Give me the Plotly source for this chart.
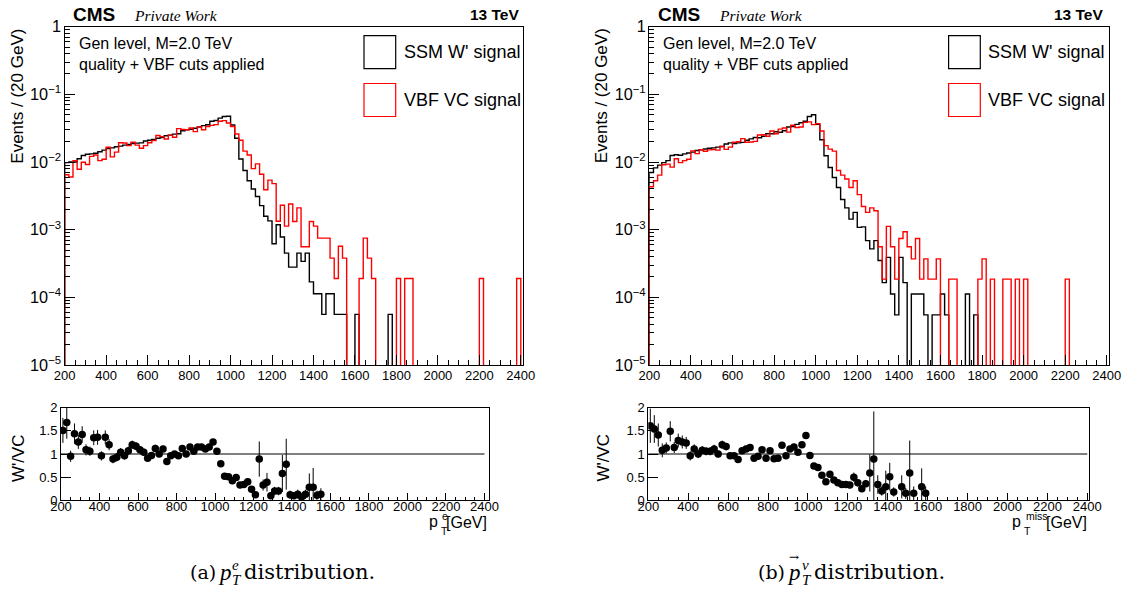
import numpy as np
import plotly.graph_objects as go

W, H = 1124, 593

# ---------------- data ----------------
bin_lo = 200
bin_w = 20
n_bins = 110

# p_T^e panel, 20 GeV bins 200-2400
pte_ssm = [0.0098, 0.0100, 0.0100, 0.0112, 0.0125, 0.0130, 0.0132, 0.0135, 0.0142, 0.0150,
           0.0158, 0.0162, 0.0168, 0.0172, 0.0178, 0.0182, 0.0188, 0.0190, 0.0192, 0.0205,
           0.0210, 0.0215, 0.0225, 0.0230, 0.0245, 0.0250, 0.0258, 0.0262, 0.0290, 0.0300,
           0.0305, 0.0315, 0.0330, 0.0345, 0.0355, 0.0400, 0.0410, 0.0445, 0.0470, 0.0475,
           0.0352, 0.0224, 0.0111, 0.0075, 0.0053, 0.0040, 0.0031, 0.00227, 0.00158, 0.00135,
           6.2e-4, 1.18e-3, 7.8e-4, 4.5e-4, 2.8e-4, 2.8e-4, 4.5e-4, 3.4e-4, 4.5e-4, 1.69e-4,
           1.13e-4, 1.13e-4, 5.6e-5, 1.13e-4, 1.13e-4, 5.6e-5, 5.6e-5, 5.6e-5, 0, 0,
           5.6e-5, 0, 0, 0, 0, 0, 0, 0, 5.6e-5, 0,
           0, 0, 0, 0, 0, 0, 0, 0, 0, 0,
           0, 0, 0, 0, 0, 0, 0, 0, 0, 0,
           0, 0, 0, 0, 0, 0, 0, 0, 0, 0]
pte_vbf = [0.0065, 0.0060, 0.0105, 0.0078, 0.0099, 0.0092, 0.0121, 0.0127, 0.0105, 0.0110,
           0.0165, 0.0119, 0.0140, 0.0193, 0.0191, 0.0175, 0.0196, 0.0178, 0.0160, 0.0175,
           0.0193, 0.0207, 0.0247, 0.0237, 0.0219, 0.0250, 0.0232, 0.0312, 0.0302, 0.0300,
           0.0318, 0.0281, 0.0330, 0.0300, 0.0335, 0.0348, 0.0357, 0.0401, 0.0409, 0.0377,
           0.0335, 0.0260, 0.0210, 0.0145, 0.0127, 0.0080, 0.0094, 0.0066, 0.0039, 0.0054,
           0.0048, 1.33e-3, 2.3e-3, 1.13e-3, 2.4e-3, 1.32e-3, 2.1e-3, 5.6e-4, 5.6e-4, 1.32e-3,
           1.13e-3, 7.5e-4, 7.5e-4, 7.5e-4, 3.8e-4, 1.9e-4, 5.7e-4, 3.8e-4, 0, 0,
           0, 1.9e-4, 7.5e-4, 3.8e-4, 1.9e-4, 0, 0, 0, 0, 0,
           1.9e-4, 0, 1.9e-4, 1.9e-4, 0, 0, 0, 0, 0, 0,
           0, 0, 0, 0, 0, 0, 0, 0, 0, 0,
           1.9e-4, 0, 0, 0, 0, 0, 0, 0, 0, 1.9e-4]

# p_T^miss panel
met_ssm = [0.0070, 0.0082, 0.0090, 0.0098, 0.0105, 0.0125, 0.0128, 0.0126, 0.0132, 0.0136,
           0.0140, 0.0148, 0.0152, 0.0156, 0.0160, 0.0162, 0.0166, 0.0170, 0.0185, 0.0192,
           0.0188, 0.0192, 0.0195, 0.0210, 0.0220, 0.0230, 0.0228, 0.0240, 0.0262, 0.0262,
           0.0280, 0.0275, 0.0290, 0.0330, 0.0335, 0.0360, 0.0380, 0.0400, 0.0470, 0.0500,
           0.0360, 0.0213, 0.0124, 0.0083, 0.0059, 0.0042, 0.0028, 0.0021, 0.00143, 0.0018,
           0.00108, 0.0011, 6.9e-4, 5.2e-4, 6.9e-4, 3.5e-4, 1.65e-4, 3.9e-4, 1.12e-4, 5.5e-5,
           3.9e-4, 1.65e-4, 0, 1.12e-4, 1.12e-4, 1.12e-4, 5.5e-5, 0, 5.5e-5, 5.5e-5,
           1.12e-4, 5.5e-5, 0, 0, 0, 0, 1.12e-4, 0, 5.5e-5, 0,
           0, 0, 0, 0, 0, 0, 0, 0, 0, 0,
           0, 0, 0, 0, 0, 0, 0, 0, 0, 0,
           0, 0, 0, 0, 0, 0, 0, 0, 0, 0]
met_vbf = [0.0043, 0.0053, 0.0064, 0.0091, 0.0093, 0.0084, 0.0112, 0.0098, 0.0105, 0.0110,
           0.0146, 0.0133, 0.0152, 0.0144, 0.0151, 0.0153, 0.0150, 0.0170, 0.0154, 0.0166,
           0.0196, 0.0200, 0.0222, 0.0196, 0.0198, 0.0202, 0.0251, 0.0253, 0.0240, 0.0288,
           0.0262, 0.0306, 0.0319, 0.0277, 0.0349, 0.0324, 0.0330, 0.0385, 0.0392, 0.0357,
           0.0370, 0.0288, 0.0175, 0.0155, 0.0145, 0.0075, 0.0064, 0.0056, 0.0042, 0.0053,
           0.0033, 0.0022, 0.0018, 0.0021, 0.0019, 5.6e-4, 1.86e-4, 1.12e-3, 5.6e-4, 1.86e-4,
           7.4e-4, 9.3e-4, 5.6e-4, 3.7e-4, 7.4e-4, 1.86e-4, 3.7e-4, 1.86e-4, 1.86e-4, 3.7e-4,
           0, 0, 1.86e-4, 1.86e-4, 0, 0, 0, 0, 0, 1.86e-4,
           3.7e-4, 0, 1.86e-4, 0, 0, 1.86e-4, 1.86e-4, 0, 1.86e-4, 0,
           1.86e-4, 0, 0, 0, 0, 0, 0, 0, 0, 0,
           1.86e-4, 0, 0, 0, 0, 0, 0, 0, 0, 0]

# ratio W'/VC per bin (None = no point)
ratio_pte = [1.51, 1.68, 0.95, 1.44, 1.26, 1.42, 1.09, 1.06, 1.35, 1.36,
             0.96, 1.36, 1.20, 0.89, 0.93, 1.04, 0.96, 1.07, 1.20, 1.17,
             1.09, 1.04, 0.91, 0.97, 1.12, 1.00, 1.11, 0.84, 0.96, 1.00,
             0.96, 1.12, 1.00, 1.15, 1.06, 1.15, 1.15, 1.11, 1.15, 1.26,
             1.06, 0.79, 0.52, 0.51, 0.42, 0.49, 0.33, 0.34, 0.40, 0.24,
             0.12, 0.89, 0.33, 0.39, 0.10, 0.20, 0.20, 0.58, 0.78, 0.12,
             0.10, 0.13, 0.07, 0.13, 0.28, 0.28, 0.11, 0.13]
ratio_pte_err = [0.27, 0.35, 0.12, 0.22, 0.15, 0.18, 0.12, 0.10, 0.16, 0.16,
                 0.10, 0.15, 0.12, 0.09, 0.09, 0.09, 0.08, 0.09, 0.09, 0.09,
                 0.08, 0.08, 0.07, 0.07, 0.08, 0.07, 0.07, 0.06, 0.06, 0.06,
                 0.06, 0.06, 0.06, 0.06, 0.06, 0.06, 0.06, 0.05, 0.05, 0.06,
                 0.05, 0.05, 0.04, 0.05, 0.05, 0.06, 0.05, 0.06, 0.08, 0.06,
                 0.05, 0.38, 0.12, 0.20, 0.06, 0.09, 0.09, 0.40, 0.55, 0.09,
                 0.08, 0.10, 0.07, 0.10, 0.30, 0.42, 0.10, 0.13]
ratio_met = [1.61, 1.54, 1.41, 1.08, 1.13, 1.49, 1.14, 1.29, 1.26, 1.24,
             0.96, 1.11, 1.00, 1.08, 1.06, 1.06, 1.11, 1.00, 1.20, 1.16,
             0.96, 0.96, 0.88, 1.07, 1.11, 1.14, 0.91, 0.95, 1.09, 0.91,
             1.07, 0.90, 0.91, 1.19, 0.96, 1.11, 1.15, 1.04, 1.20, 1.40,
             0.97, 0.74, 0.71, 0.54, 0.40, 0.56, 0.44, 0.38, 0.34, 0.34,
             0.33, 0.50, 0.38, 0.25, 0.36, 0.59, 0.89, 0.34, 0.20, 0.29,
             0.51, 0.18, None, 0.29, 0.15, 0.59, 0.15, None, 0.29, 0.15]
ratio_met_err = [0.37, 0.30, 0.25, 0.15, 0.12, 0.22, 0.12, 0.15, 0.14, 0.13,
                 0.10, 0.10, 0.09, 0.09, 0.09, 0.09, 0.09, 0.08, 0.09, 0.08,
                 0.07, 0.07, 0.07, 0.07, 0.07, 0.07, 0.06, 0.06, 0.06, 0.06,
                 0.06, 0.05, 0.05, 0.06, 0.05, 0.06, 0.06, 0.05, 0.06, 0.07,
                 0.05, 0.05, 0.05, 0.05, 0.05, 0.07, 0.06, 0.06, 0.06, 0.06,
                 0.07, 0.10, 0.08, 0.07, 0.08, 0.40, 1.03, 0.20, 0.10, 0.35,
                 0.30, 0.10, None, 0.25, 0.12, 0.70, 0.15, None, 0.40, 0.15]

x_ticks = [200, 400, 600, 800, 1000, 1200, 1400, 1600, 1800, 2000, 2200, 2400]
ratio_ticks = [0, 0.5, 1, 1.5, 2]
ratio_ticktext = ["0", "0.5", "1", "1.5", "2"]
legend_labels = ["SSM W' signal", "VBF VC signal"]

# ---------------- helpers ----------------
FONT = "Liberation Sans"
SERIF = "DejaVu Serif"
MATH = "Liberation Serif"
FLOOR = 1e-8
edges = bin_lo + bin_w * np.arange(n_bins + 1)
centers = edges[:-1] + bin_w / 2


def X(px):
    return px / W


def Y(py):
    return 1 - py / H


def step_xy(vals):
    xs = np.concatenate([[edges[0]], edges[:-1], [edges[-1]]])
    ys = [FLOOR] + [v if v > 0 else FLOOR for v in vals] + [FLOOR]
    return xs, ys


fig = go.Figure()

panels = [
    dict(xa="x", ya="y", ssm=pte_ssm, vbf=pte_vbf),
    dict(xa="x2", ya="y2", ssm=met_ssm, vbf=met_vbf),
]
for p in panels:
    for vals, col in [(p["ssm"], "black"), (p["vbf"], "#ff0000")]:
        xs, ys = step_xy(vals)
        fig.add_trace(go.Scatter(x=xs, y=ys, mode="lines", line=dict(color=col, width=1.4, shape="hv"),
                                 xaxis=p["xa"], yaxis=p["ya"], showlegend=False, hoverinfo="skip"))

for rv, re, xa, ya in [(ratio_pte, ratio_pte_err, "x3", "y3"), (ratio_met, ratio_met_err, "x4", "y4")]:
    fig.add_trace(go.Scatter(x=centers[:len(rv)], y=rv, mode="markers",
                             marker=dict(color="black", size=7.5),
                             error_y=dict(type="data", array=re, color="black", thickness=1, width=0),
                             xaxis=xa, yaxis=ya, showlegend=False, hoverinfo="skip"))

axis_common = dict(showline=True, linecolor="black", linewidth=1, mirror=True, ticks="inside",
                   tickcolor="black", showgrid=False, zeroline=False, automargin=False,
                   tickfont=dict(family=FONT, size=13, color="black"))

top_y = [Y(365), Y(26.7)]
rat_y = [Y(500.3), Y(407.7)]

top_x_l = [X(64.7), X(523.3)]
top_x_r = [X(649.3), X(1109.3)]
rat_x_l = [X(61.0), X(489.3)]
rat_x_r = [X(648.3), X(1089.3)]

xa_top = dict(axis_common, range=[200, 2412], tickmode="array", tickvals=x_ticks, ticklen=10,
              ticklabelstandoff=-2,
              minor=dict(dtick=50, ticklen=5, ticks="inside", tickcolor="black"))
ya_top = dict(axis_common, type="log", range=[-5, 0], tickmode="linear", tick0=0, dtick=1,
              exponentformat="power", showexponent="all", ticklen=10,
              minor=dict(dtick="D1", ticklen=5, ticks="inside", tickcolor="black"))
xa_rat = dict(axis_common, tickmode="array", tickvals=x_ticks, ticklen=7, ticklabelstandoff=-6,
              minor=dict(dtick=50, ticklen=3, ticks="inside", tickcolor="black"))
ya_rat = dict(axis_common, range=[0, 2], tickmode="array", tickvals=ratio_ticks,
              ticktext=ratio_ticktext, ticklen=10)

fig.update_layout(
    xaxis=dict(xa_top, domain=top_x_l, anchor="y"),
    yaxis=dict(ya_top, domain=top_y, anchor="x"),
    xaxis2=dict(xa_top, domain=top_x_r, anchor="y2"),
    yaxis2=dict(ya_top, domain=top_y, anchor="x2"),
    xaxis3=dict(xa_rat, domain=rat_x_l, anchor="y3", range=[200, 2425]),
    yaxis3=dict(ya_rat, domain=rat_y, anchor="x3"),
    xaxis4=dict(xa_rat, domain=rat_x_r, anchor="y4", range=[200, 2410]),
    yaxis4=dict(ya_rat, domain=rat_y, anchor="x4"),
)

shapes = []
for xa, ya in [("x3", "y3"), ("x4", "y4")]:
    shapes.append(dict(type="line", xref=xa, yref=ya, x0=edges[0], x1=edges[-1], y0=1, y1=1,
                       line=dict(color="black", width=1)))

annotations = []


def txt(x, y, s, size, xanchor="left", family=FONT, angle=0, yanchor="middle"):
    annotations.append(dict(x=X(x), y=Y(y), xref="paper", yref="paper", text=s, showarrow=False,
                            xanchor=xanchor, yanchor=yanchor, textangle=angle,
                            font=dict(family=family, size=size, color="black")))


for off in [0, 584.6]:
    txt(71 + off, 14, "<b>CMS</b>", 19)
    txt(132 + off, 15, "<i>Private Work</i>", 15.5, family="Liberation Serif")
    txt(520.5 + off, 14, "<b>13 TeV</b>", 15.5, xanchor="right")
    txt(76.7 + off, 43, "Gen level, M=2.0 TeV", 16)
    txt(76.7 + off, 64, "quality + VBF cuts applied", 16)
    for k, (lab, col) in enumerate(zip(legend_labels, ["black", "#ff0000"])):
        y0 = 35.7 + 47.8 * k
        shapes.append(dict(type="rect", xref="paper", yref="paper", x0=X(364 + off), x1=X(395.7 + off),
                           y0=Y(y0), y1=Y(y0 + 33), line=dict(color=col, width=1.2)))
        txt(401.7 + off, y0 + 16.5, lab, 18)
    txt(16.7 + off, 96, "Events / (20 GeV)", 17, xanchor="center", angle=-90)
    txt(18 + off, 458, "W'/VC", 17, xanchor="center", angle=-90)

# x titles of the ratio panels
for p_right, sup_txt, gev_right in [(440, "e", 489.3), (1023, "miss", 1089.3)]:
    txt(gev_right, 522, "[GeV]", 16, xanchor="right")
    txt(p_right, 521, "p", 16, xanchor="right")
    txt(p_right + 0.5, 515.5, sup_txt, 10.5)
    txt(p_right - 1, 531, "T", 10.5)

# captions
CAP = 21
txt(188, 572, "(a)", 19, family=SERIF)
txt(234, 572, "<i>p</i>", 23, xanchor="right", family=MATH)
txt(229.5, 565, "<i>e</i>", 15, family=MATH)
txt(229.5, 580, "<i>T</i>", 15, family=MATH)
txt(242, 572, "distribution.", CAP, family=SERIF)
txt(756, 572, "(b)", 19, family=SERIF)
txt(803, 572, "<i>p</i>", 23, xanchor="right", family=MATH)
txt(793.5, 557, "\u2192", 12, xanchor="center", family=SERIF)
txt(799.5, 565, "<i>\u03bd</i>", 15, family=MATH)
txt(799.5, 580, "<i>T</i>", 15, family=MATH)
txt(811.5, 572, "distribution.", CAP, family=SERIF)

fig.update_layout(width=W, height=H, margin=dict(l=0, r=0, t=0, b=0), paper_bgcolor="white",
                  plot_bgcolor="white", shapes=shapes, annotations=annotations, showlegend=False)

fig.write_html("out.html")
